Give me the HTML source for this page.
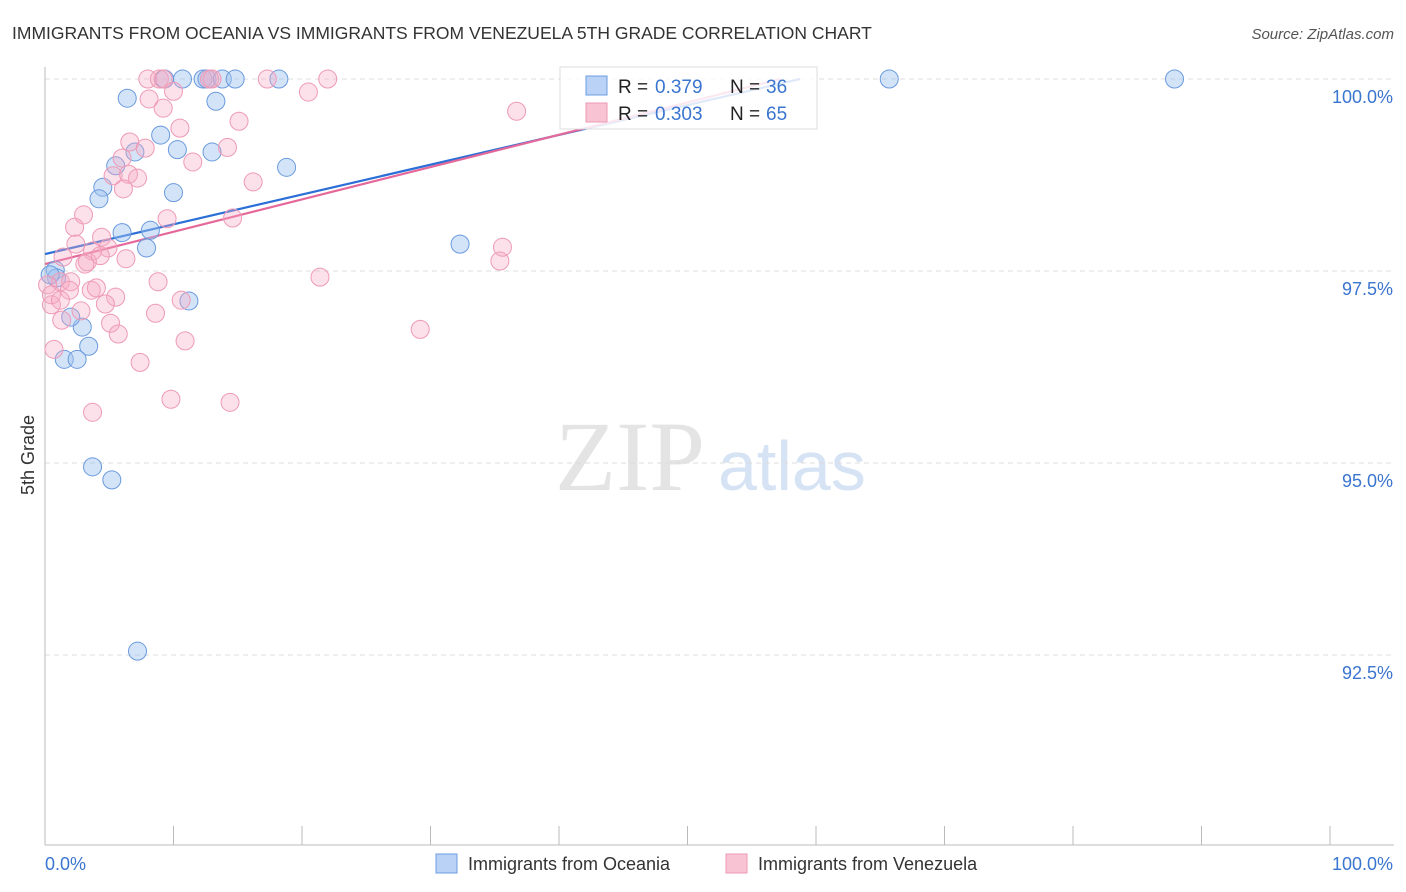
<!DOCTYPE html>
<html><head><meta charset="utf-8"><style>
body{margin:0;background:#fff;font-family:"Liberation Sans",sans-serif;}
#wrap{position:relative;width:1406px;height:892px;overflow:hidden}
</style></head><body>
<div id="wrap">
<svg id="svg" width="1406" height="892" xmlns="http://www.w3.org/2000/svg">
<text x="12" y="39" font-size="17.5" fill="#333">IMMIGRANTS FROM OCEANIA VS IMMIGRANTS FROM VENEZUELA 5TH GRADE CORRELATION CHART</text>
<text x="1394" y="39" font-size="15" fill="#555" font-style="italic" text-anchor="end">Source: ZipAtlas.com</text>
<text x="34" y="455" font-size="18" fill="#333" text-anchor="middle" transform="rotate(-90 34 455)">5th Grade</text>
<text x="555" y="490" font-size="100" fill="#e4e4e4" font-family="Liberation Serif,serif">ZIP</text>
<text x="718" y="490" font-size="70" fill="#d6e3f5">atlas</text>
<g id="grid"></g><g id="axes"></g><g id="lines"></g><g id="pts"></g>
<g>
<rect x="560" y="67" width="257" height="62" fill="rgba(255,255,255,0.85)" stroke="#ddd"/>
<rect x="586" y="76" width="21" height="19" fill="#b9d2f5" stroke="#6c9ce0"/>
<rect x="586" y="103" width="21" height="19" fill="#f8c4d4" stroke="#ec9ab4"/>
<g font-size="19">
<text x="618" y="93" fill="#222">R =</text><text x="655" y="93" fill="#3a75d0">0.379</text>
<text x="730" y="93" fill="#222">N =</text><text x="766" y="93" fill="#3a75d0">36</text></g>
<g font-size="19">
<text x="618" y="120" fill="#222">R =</text><text x="655" y="120" fill="#3a75d0">0.303</text>
<text x="730" y="120" fill="#222">N =</text><text x="766" y="120" fill="#3a75d0">65</text></g>
</g>
<g>
<rect x="436" y="854" width="21" height="19" fill="#b9d2f5" stroke="#6c9ce0"/>
<text x="468" y="870" font-size="18" fill="#333">Immigrants from Oceania</text>
<rect x="726" y="854" width="21" height="19" fill="#f8c4d4" stroke="#ec9ab4"/>
<text x="758" y="870" font-size="18" fill="#333">Immigrants from Venezuela</text>
</g>
</svg>
</div>
<script>
const yTicks=[100,97.5,95,92.5];
const yTickLabels=["100.0%","97.5%","95.0%","92.5%"];
const xEndLabels=["0.0%","100.0%"];
const blueX=[9.3,10.7,12.3,12.6,13.8,14.8,18.2,65.7,87.9,6.4,13.3,9.0,10.3,7.0,13.0,5.5,18.8,4.5,4.2,10.0,6.0,8.2,7.9,32.3,0.8,0.9,11.2,2.9,2.0,3.4,1.5,2.5,3.7,5.2,7.2,0.4];
const blueY=[100,100,100,100,100,100,100,100,100,99.75,99.71,99.27,99.08,99.05,99.05,98.87,98.85,98.59,98.44,98.52,98.0,98.03,97.8,97.85,97.51,97.41,97.11,96.77,96.9,96.52,96.35,96.35,94.95,94.78,92.55,97.45];
const pinkX=[8.0,8.9,9.2,12.8,13.0,17.3,22.0,8.1,10.0,9.2,20.5,36.7,15.1,10.5,6.6,7.8,14.2,11.5,6.0,5.3,6.5,7.2,16.2,6.1,3.0,2.3,9.5,14.6,2.4,4.4,4.9,3.7,3.3,4.3,6.3,1.4,3.1,21.4,35.4,35.6,8.8,1.2,0.2,2.0,1.9,3.6,4.0,5.5,4.7,2.8,0.5,10.6,8.6,1.3,5.1,5.7,10.9,29.2,0.7,7.4,3.7,9.8,14.4,0.5,1.2];
const pinkY=[100,100,100,100,100,100,100,99.74,99.84,99.62,99.83,99.58,99.45,99.36,99.18,99.1,99.11,98.92,98.97,98.74,98.76,98.71,98.66,98.57,98.23,98.07,98.18,98.19,97.85,97.94,97.8,97.76,97.62,97.7,97.66,97.68,97.59,97.42,97.63,97.81,97.36,97.36,97.32,97.36,97.25,97.25,97.28,97.16,97.07,96.98,97.06,97.12,96.95,96.86,96.82,96.68,96.59,96.74,96.48,96.31,95.66,95.83,95.79,97.19,97.12];
const blueTrend=[97.72,0.0388];
const pinkTrend=[97.59,0.0421];
const NS="http://www.w3.org/2000/svg";
const X=v=>45+v*12.85, Y=v=>79+(100-v)*76.8;
function mk(tag,attrs,parent){const e=document.createElementNS(NS,tag);for(const k in attrs)e.setAttribute(k,attrs[k]);document.getElementById(parent).appendChild(e);return e;}
yTicks.forEach((t,i)=>{
 const g=mk('line',{x1:45,x2:1394,y1:Y(t),y2:Y(t),stroke:'#ddd','stroke-dasharray':'5,4'},'grid');
 
 
 const l=mk('text',{x:1393,y:Y(t)+24,'font-size':18,fill:'#3a75d0','text-anchor':'end'},'grid');
 l.textContent=yTickLabels[i];
 
 
});
const ax=mk('line',{x1:45,x2:45,y1:67,y2:845,stroke:'#bbb'},'axes');


const bx=mk('line',{x1:45,x2:1394,y1:845,y2:845,stroke:'#bbb'},'axes');


for(let i=0;i<=10;i++){const t=mk('line',{x1:X(i*10),x2:X(i*10),y1:826,y2:845,stroke:'#bbb'},'axes');
 
 }
xEndLabels.forEach((s,i)=>{const t=mk('text',{x:i?1393:45,y:870,'font-size':18,fill:'#3a75d0','text-anchor':i?'end':'start'},'axes');t.textContent=s;
 
 });
function trend(tr,col,name){const x2=(100-tr[0])/tr[1];const l=mk('line',{x1:X(0),y1:Y(tr[0]),x2:X(x2),y2:Y(100),stroke:col,'stroke-width':2.2},'lines');
 
 }
trend(blueTrend,'#2c6fd6','trend-line-oceania');
trend(pinkTrend,'#e5689a','trend-line-venezuela');
blueX.forEach((x,i)=>{const c=mk('circle',{cx:X(x),cy:Y(blueY[i]),r:9,fill:'rgba(160,195,240,0.45)',stroke:'#6a9ade','stroke-width':1},'pts');
 
 });
pinkX.forEach((x,i)=>{const c=mk('circle',{cx:X(x),cy:Y(pinkY[i]),r:9,fill:'rgba(245,170,195,0.35)',stroke:'#ee9ab6','stroke-width':1},'pts');
 
 });
</script>
</body></html>
